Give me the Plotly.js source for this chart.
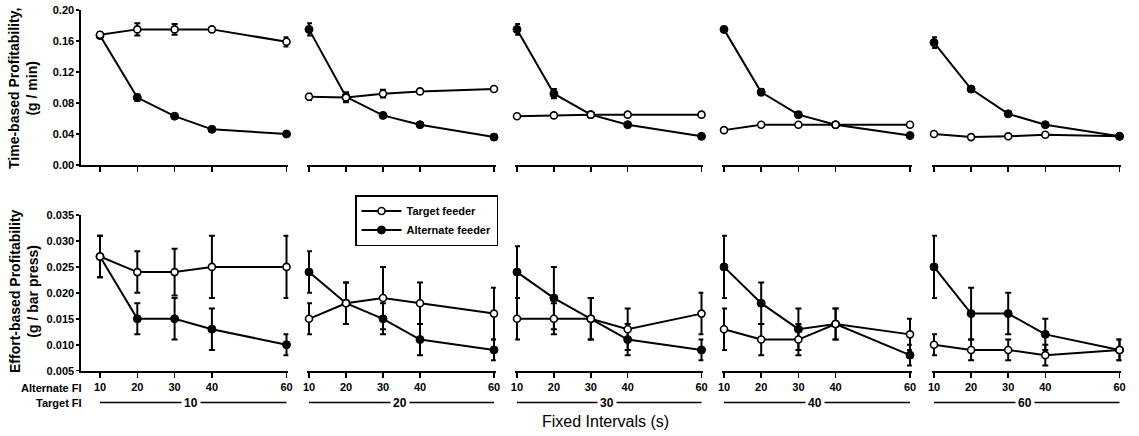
<!DOCTYPE html>
<html><head><meta charset="utf-8">
<script src="https://cdn.plot.ly/plotly-3.0.1.min.js"></script>
<style>html,body{margin:0;padding:0;background:#fff}#chart{width:1139px;height:436px}</style>
</head><body><div id="chart"></div>
<script>
// ---- data ----
const fixedIntervals = [10, 20, 30, 40, 60];          // Alternate FI (x values)
const targetFILabels = ['10', '20', '30', '40', '60']; // Target FI of each panel
const seriesNames = ['Target feeder', 'Alternate feeder'];

// Time-based profitability (g / min), one list per Target FI panel
const timeTarget = [
  [0.168, 0.175, 0.175, 0.175, 0.159],
  [0.088, 0.087, 0.092, 0.095, 0.098],
  [0.063, 0.064, 0.065, 0.065, 0.065],
  [0.045, 0.052, 0.052, 0.052, 0.052],
  [0.040, 0.036, 0.037, 0.039, 0.037]
];
const timeTargetErr = [
  [0.003, 0.008, 0.007, 0.003, 0.006],
  [0.004, 0.006, 0.005, 0.003, 0.002],
  [0.002, 0.002, 0.002, 0.002, 0.002],
  [0.002, 0.002, 0.002, 0.002, 0.002],
  [0.002, 0.002, 0.002, 0.002, 0.002]
];
const timeAlternate = [
  [0.167, 0.087, 0.063, 0.046, 0.040],
  [0.175, 0.088, 0.064, 0.052, 0.036],
  [0.175, 0.092, 0.065, 0.052, 0.037],
  [0.175, 0.094, 0.065, 0.052, 0.038],
  [0.158, 0.098, 0.066, 0.052, 0.037]
];
const timeAlternateErr = [
  [0.003, 0.004, 0.002, 0.002, 0.002],
  [0.008, 0.006, 0.002, 0.002, 0.002],
  [0.007, 0.006, 0.003, 0.002, 0.002],
  [0.003, 0.004, 0.003, 0.002, 0.002],
  [0.007, 0.003, 0.003, 0.002, 0.002]
];

// Effort-based profitability (g / bar press)
const effortTarget = [
  [0.027, 0.024, 0.024, 0.025, 0.025],
  [0.015, 0.018, 0.019, 0.018, 0.016],
  [0.015, 0.015, 0.015, 0.013, 0.016],
  [0.013, 0.011, 0.011, 0.014, 0.012],
  [0.010, 0.009, 0.009, 0.008, 0.009]
];
const effortTargetErr = [
  [0.004, 0.004, 0.0045, 0.006, 0.006],
  [0.003, 0.004, 0.006, 0.004, 0.005],
  [0.004, 0.003, 0.004, 0.004, 0.004],
  [0.004, 0.003, 0.003, 0.003, 0.003],
  [0.002, 0.002, 0.002, 0.002, 0.002]
];
const effortAlternate = [
  [0.027, 0.015, 0.015, 0.013, 0.010],
  [0.024, 0.018, 0.015, 0.011, 0.009],
  [0.024, 0.019, 0.015, 0.011, 0.009],
  [0.025, 0.018, 0.013, 0.014, 0.008],
  [0.025, 0.016, 0.016, 0.012, 0.009]
];
const effortAlternateErr = [
  [0.004, 0.003, 0.004, 0.004, 0.002],
  [0.004, 0.004, 0.003, 0.003, 0.002],
  [0.005, 0.006, 0.004, 0.003, 0.002],
  [0.006, 0.004, 0.004, 0.003, 0.002],
  [0.006, 0.005, 0.004, 0.003, 0.002]
];

const timeTicks = [0, 0.04, 0.08, 0.12, 0.16, 0.20];
const effortTicks = [0.005, 0.010, 0.015, 0.020, 0.025, 0.030, 0.035];

// ---- layout geometry (pixels) ----
const W = 1139, H = 436;
const panelPx = [[100, 286.5], [309, 494], [517, 701.5], [724, 910], [934, 1119.5]]; // px of x=10 and x=60
const topPx = [10, 165], botPx = [215, 370.7];
const FONT = 'Liberation Sans, Arial, Helvetica, sans-serif';

const px2x = p => p / W, py2y = p => 1 - p / H;
const tickFont = {family: FONT, size: 11, color: '#000', weight: 'bold'};

const layout = {
  width: W, height: H,
  margin: {l: 0, r: 0, t: 0, b: 0},
  paper_bgcolor: '#fff', plot_bgcolor: 'rgba(0,0,0,0)',
  font: {family: FONT, color: '#000'},
  showlegend: true,
  legend: {
    x: px2x(355), y: py2y(195), xanchor: 'left', yanchor: 'top',
    bordercolor: '#000', borderwidth: 1.5, bgcolor: '#fff',
    font: {family: FONT, size: 11, color: '#000', weight: 'bold'},
    itemwidth: 40, tracegroupgap: 0
  },
  annotations: [], shapes: []
};

const traces = [];
for (let k = 0; k < 5; k++) {
  const [p10, p60] = panelPx[k];
  const s = (p60 - p10) / 50;
  const xr = k === 0 ? [5, 60.5] : [9.5, 60.5];
  const dom = [px2x(p10 - (10 - xr[0]) * s), px2x(p60 + 0.5 * s)];
  for (let row = 0; row < 2; row++) {
    const id = k + 1 + row * 5;
    const xname = 'xaxis' + (id === 1 ? '' : id), yname = 'yaxis' + (id === 1 ? '' : id);
    const yd = row === 0 ? [py2y(topPx[1]), py2y(topPx[0])] : [py2y(botPx[1]), py2y(botPx[0])];
    layout[xname] = {
      domain: dom, range: xr, anchor: 'y' + (id === 1 ? '' : id),
      showline: true, linewidth: 2, linecolor: '#000', mirror: false,
      ticks: 'outside', ticklen: 5, tickwidth: 1.5, tickcolor: '#000',
      tickvals: fixedIntervals, ticktext: fixedIntervals.map(String),
      showticklabels: row === 1, tickfont: tickFont,
      showgrid: false, zeroline: false, fixedrange: true
    };
    const yax = {
      domain: yd, anchor: 'x' + (id === 1 ? '' : id),
      range: row === 0 ? [0, 0.2] : [0.005, 0.035],
      showgrid: false, zeroline: false, fixedrange: true
    };
    if (k === 0) {
      Object.assign(yax, {
        showline: true, linewidth: 2, linecolor: '#000',
        ticks: 'outside', ticklen: 3, tickwidth: 1.5, tickcolor: '#000',
        tickvals: row === 0 ? timeTicks : effortTicks,
        tickformat: row === 0 ? '.2f' : '.3f', tickfont: tickFont
      });
    } else {
      yax.visible = false;
    }
    layout[yname] = yax;

    const tY = row === 0 ? timeTarget[k] : effortTarget[k];
    const tE = row === 0 ? timeTargetErr[k] : effortTargetErr[k];
    const aY = row === 0 ? timeAlternate[k] : effortAlternate[k];
    const aE = row === 0 ? timeAlternateErr[k] : effortAlternateErr[k];
    const common = {
      x: fixedIntervals, mode: 'lines+markers', cliponaxis: false,
      xaxis: 'x' + (id === 1 ? '' : id), yaxis: 'y' + (id === 1 ? '' : id),
      line: {color: '#000', width: 2}
    };
    const alt = Object.assign({}, common, {
      y: aY, name: seriesNames[1], legendrank: 2, showlegend: id === 1,
      marker: {symbol: 'circle', size: 8, color: '#000', line: {color: '#000', width: 1}},
      error_y: {type: 'data', array: aE, visible: true, color: '#000', thickness: 2, width: 3}
    });
    const tgt = Object.assign({}, common, {
      y: tY, name: seriesNames[0], legendrank: 1, showlegend: id === 1,
      marker: {symbol: 'circle', size: 7, color: '#fff', line: {color: '#000', width: 1.6}},
      error_y: {type: 'data', array: tE, visible: true, color: '#000', thickness: 2, width: 3}
    });
    if (row === 0 && k === 4) { traces.push(tgt, alt); } else { traces.push(alt, tgt); }

    if (row === 1) {
      // Target FI group line + label
      layout.shapes.push({type: 'line', xref: 'x' + id, yref: 'paper', x0: 10, x1: 60,
        y0: py2y(402.5), y1: py2y(402.5), line: {color: '#000', width: 1.5}});
      layout.annotations.push({xref: 'x' + id, yref: 'paper', x: 34.5, y: py2y(403),
        xanchor: 'center', yanchor: 'middle',
        text: targetFILabels[k], showarrow: false, bgcolor: '#fff', borderpad: 2,
        font: {family: FONT, size: 12, color: '#000', weight: 'bold'}});
    }
  }
}

layout.annotations.push(
  {xref: 'paper', yref: 'paper', x: px2x(84), y: py2y(388), xanchor: 'right', yanchor: 'middle',
   text: 'Alternate FI', showarrow: false, font: {family: FONT, size: 11, color: '#000', weight: 'bold'}},
  {xref: 'paper', yref: 'paper', x: px2x(84), y: py2y(403), xanchor: 'right', yanchor: 'middle',
   text: 'Target FI', showarrow: false, font: {family: FONT, size: 11, color: '#000', weight: 'bold'}},
  {xref: 'paper', yref: 'paper', x: px2x(605), y: py2y(421), xanchor: 'center', yanchor: 'middle',
   text: 'Fixed Intervals (s)', showarrow: false, font: {family: FONT, size: 16, color: '#000'}},
  {xref: 'paper', yref: 'paper', x: px2x(23), y: py2y(89), xanchor: 'center', yanchor: 'middle',
   textangle: -90, text: 'Time-based Profitability,<br>(g / min)', showarrow: false,
   font: {family: FONT, size: 14, color: '#000', weight: 'bold'}},
  {xref: 'paper', yref: 'paper', x: px2x(24), y: py2y(291), xanchor: 'center', yanchor: 'middle',
   textangle: -90, text: 'Effort-based Profitability<br>(g / bar press)', showarrow: false,
   font: {family: FONT, size: 14, color: '#000', weight: 'bold'}}
);

Plotly.newPlot('chart', traces, layout, {staticPlot: true, displayModeBar: false});
</script>
</body></html>
